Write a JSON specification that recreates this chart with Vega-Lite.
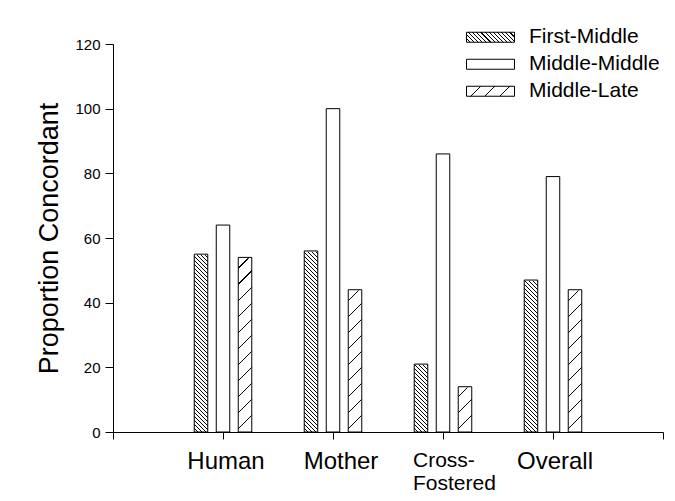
{
"$schema": "https://vega.github.io/schema/vega-lite/v6.json",
"width": 550,
"height": 388,
"autosize": {"type": "none"},
"padding": {"left": 113, "top": 44, "right": 12, "bottom": 69},
"config": {"view": {"stroke": null}, "font": "Liberation Sans",
"axis": {"labelFontSize": 15},
"axisY": {"labelFontSize": 15, "labelPadding": 5, "tickSize": 8, "tickColor": "#000", "domainColor": "#000", "labelColor": "#000", "grid": false}},
"data": {"values": [
{"group": "Human", "series": "First-Middle", "value": 55},
{"group": "Human", "series": "Middle-Middle", "value": 64},
{"group": "Human", "series": "Middle-Late", "value": 54},
{"group": "Mother", "series": "First-Middle", "value": 56},
{"group": "Mother", "series": "Middle-Middle", "value": 100},
{"group": "Mother", "series": "Middle-Late", "value": 44},
{"group": "Cross-Fostered", "series": "First-Middle", "value": 21},
{"group": "Cross-Fostered", "series": "Middle-Middle", "value": 86},
{"group": "Cross-Fostered", "series": "Middle-Late", "value": 14},
{"group": "Overall", "series": "First-Middle", "value": 47},
{"group": "Overall", "series": "Middle-Middle", "value": 79},
{"group": "Overall", "series": "Middle-Late", "value": 44}
]},
"layer": [
{
"encoding": {
"x": {"field": "group", "type": "nominal",
"scale": {"domain": ["Human", "Mother", "Cross-Fostered", "Overall"], "paddingInner": 0.477, "paddingOuter": 0.7386},
"axis": {"orient": "bottom", "title": null, "ticks": false, "domain": false, "labelAngle": 0, "labelColor": "#000", "labelPadding": 17, "labelOverlap": false, "labelBound": false, "labelLineHeight": 23,
"labelExpr": "datum.value === 'Cross-Fostered' ? ['Cross-', 'Fostered'] : datum.label",
"labelAlign": {"condition": {"test": "datum.value === 'Cross-Fostered'", "value": "left"}, "value": "center"},
"labelFontSize": {"condition": {"test": "datum.value === 'Cross-Fostered'", "value": 21}, "value": 24},
"labelOffset": {"condition": [{"test": "datum.value === 'Cross-Fostered'", "value": -30}, {"test": "datum.value === 'Mother'", "value": 8}, {"test": "datum.value === 'Human'", "value": 3}], "value": 2}
}},
"xOffset": {"field": "series", "type": "nominal", "scale": {"domain": ["First-Middle", "Middle-Middle", "Middle-Late"], "paddingInner": 0.386, "paddingOuter": 0}},
"y": {"field": "value", "type": "quantitative", "scale": {"domain": [0, 120], "nice": false},
"axis": {"values": [0, 20, 40, 60, 80, 100, 120], "tickSize": 8, "tickColor": "#000", "domainColor": "#000", "labelFontSize": 15, "labelColor": "#000", "labelPadding": 5, "grid": false,
"title": "Proportion Concordant", "titleFontSize": 27, "titleFontWeight": "normal", "titleColor": "#000", "titlePadding": 11}}
},
"layer": [
{
"transform": [{"filter": "datum.series === 'First-Middle'"}],
"mark": {"type": "bar", "fill": {"gradient": "linear", "x1": 0, "y1": 1, "x2": 0.036, "y2": -0.0336, "stops": [
{"offset":0,"color":"#fff"},
{"offset":0.007,"color":"#fff"},{"offset":0.007,"color":"#000"},{"offset":0.01,"color":"#000"},{"offset":0.01,"color":"#fff"},
{"offset":0.017,"color":"#fff"},{"offset":0.017,"color":"#000"},{"offset":0.02,"color":"#000"},{"offset":0.02,"color":"#fff"},
{"offset":0.027,"color":"#fff"},{"offset":0.027,"color":"#000"},{"offset":0.03,"color":"#000"},{"offset":0.03,"color":"#fff"},
{"offset":0.037,"color":"#fff"},{"offset":0.037,"color":"#000"},{"offset":0.04,"color":"#000"},{"offset":0.04,"color":"#fff"},
{"offset":0.047,"color":"#fff"},{"offset":0.047,"color":"#000"},{"offset":0.05,"color":"#000"},{"offset":0.05,"color":"#fff"},
{"offset":0.057,"color":"#fff"},{"offset":0.057,"color":"#000"},{"offset":0.06,"color":"#000"},{"offset":0.06,"color":"#fff"},
{"offset":0.067,"color":"#fff"},{"offset":0.067,"color":"#000"},{"offset":0.07,"color":"#000"},{"offset":0.07,"color":"#fff"},
{"offset":0.077,"color":"#fff"},{"offset":0.077,"color":"#000"},{"offset":0.08,"color":"#000"},{"offset":0.08,"color":"#fff"},
{"offset":0.087,"color":"#fff"},{"offset":0.087,"color":"#000"},{"offset":0.09,"color":"#000"},{"offset":0.09,"color":"#fff"},
{"offset":0.097,"color":"#fff"},{"offset":0.097,"color":"#000"},{"offset":0.1,"color":"#000"},{"offset":0.1,"color":"#fff"},
{"offset":0.107,"color":"#fff"},{"offset":0.107,"color":"#000"},{"offset":0.11,"color":"#000"},{"offset":0.11,"color":"#fff"},
{"offset":0.117,"color":"#fff"},{"offset":0.117,"color":"#000"},{"offset":0.12,"color":"#000"},{"offset":0.12,"color":"#fff"},
{"offset":0.127,"color":"#fff"},{"offset":0.127,"color":"#000"},{"offset":0.13,"color":"#000"},{"offset":0.13,"color":"#fff"},
{"offset":0.137,"color":"#fff"},{"offset":0.137,"color":"#000"},{"offset":0.14,"color":"#000"},{"offset":0.14,"color":"#fff"},
{"offset":0.147,"color":"#fff"},{"offset":0.147,"color":"#000"},{"offset":0.15,"color":"#000"},{"offset":0.15,"color":"#fff"},
{"offset":0.157,"color":"#fff"},{"offset":0.157,"color":"#000"},{"offset":0.16,"color":"#000"},{"offset":0.16,"color":"#fff"},
{"offset":0.167,"color":"#fff"},{"offset":0.167,"color":"#000"},{"offset":0.17,"color":"#000"},{"offset":0.17,"color":"#fff"},
{"offset":0.177,"color":"#fff"},{"offset":0.177,"color":"#000"},{"offset":0.18,"color":"#000"},{"offset":0.18,"color":"#fff"},
{"offset":0.187,"color":"#fff"},{"offset":0.187,"color":"#000"},{"offset":0.19,"color":"#000"},{"offset":0.19,"color":"#fff"},
{"offset":0.197,"color":"#fff"},{"offset":0.197,"color":"#000"},{"offset":0.2,"color":"#000"},{"offset":0.2,"color":"#fff"},
{"offset":0.207,"color":"#fff"},{"offset":0.207,"color":"#000"},{"offset":0.21,"color":"#000"},{"offset":0.21,"color":"#fff"},
{"offset":0.217,"color":"#fff"},{"offset":0.217,"color":"#000"},{"offset":0.22,"color":"#000"},{"offset":0.22,"color":"#fff"},
{"offset":0.227,"color":"#fff"},{"offset":0.227,"color":"#000"},{"offset":0.23,"color":"#000"},{"offset":0.23,"color":"#fff"},
{"offset":0.237,"color":"#fff"},{"offset":0.237,"color":"#000"},{"offset":0.24,"color":"#000"},{"offset":0.24,"color":"#fff"},
{"offset":0.247,"color":"#fff"},{"offset":0.247,"color":"#000"},{"offset":0.25,"color":"#000"},{"offset":0.25,"color":"#fff"},
{"offset":0.257,"color":"#fff"},{"offset":0.257,"color":"#000"},{"offset":0.26,"color":"#000"},{"offset":0.26,"color":"#fff"},
{"offset":0.267,"color":"#fff"},{"offset":0.267,"color":"#000"},{"offset":0.27,"color":"#000"},{"offset":0.27,"color":"#fff"},
{"offset":0.277,"color":"#fff"},{"offset":0.277,"color":"#000"},{"offset":0.28,"color":"#000"},{"offset":0.28,"color":"#fff"},
{"offset":0.287,"color":"#fff"},{"offset":0.287,"color":"#000"},{"offset":0.29,"color":"#000"},{"offset":0.29,"color":"#fff"},
{"offset":0.297,"color":"#fff"},{"offset":0.297,"color":"#000"},{"offset":0.3,"color":"#000"},{"offset":0.3,"color":"#fff"},
{"offset":0.307,"color":"#fff"},{"offset":0.307,"color":"#000"},{"offset":0.31,"color":"#000"},{"offset":0.31,"color":"#fff"},
{"offset":0.317,"color":"#fff"},{"offset":0.317,"color":"#000"},{"offset":0.32,"color":"#000"},{"offset":0.32,"color":"#fff"},
{"offset":0.327,"color":"#fff"},{"offset":0.327,"color":"#000"},{"offset":0.33,"color":"#000"},{"offset":0.33,"color":"#fff"},
{"offset":0.337,"color":"#fff"},{"offset":0.337,"color":"#000"},{"offset":0.34,"color":"#000"},{"offset":0.34,"color":"#fff"},
{"offset":0.347,"color":"#fff"},{"offset":0.347,"color":"#000"},{"offset":0.35,"color":"#000"},{"offset":0.35,"color":"#fff"},
{"offset":0.357,"color":"#fff"},{"offset":0.357,"color":"#000"},{"offset":0.36,"color":"#000"},{"offset":0.36,"color":"#fff"},
{"offset":0.367,"color":"#fff"},{"offset":0.367,"color":"#000"},{"offset":0.37,"color":"#000"},{"offset":0.37,"color":"#fff"},
{"offset":0.377,"color":"#fff"},{"offset":0.377,"color":"#000"},{"offset":0.38,"color":"#000"},{"offset":0.38,"color":"#fff"},
{"offset":0.387,"color":"#fff"},{"offset":0.387,"color":"#000"},{"offset":0.39,"color":"#000"},{"offset":0.39,"color":"#fff"},
{"offset":0.397,"color":"#fff"},{"offset":0.397,"color":"#000"},{"offset":0.4,"color":"#000"},{"offset":0.4,"color":"#fff"},
{"offset":0.407,"color":"#fff"},{"offset":0.407,"color":"#000"},{"offset":0.41,"color":"#000"},{"offset":0.41,"color":"#fff"},
{"offset":0.417,"color":"#fff"},{"offset":0.417,"color":"#000"},{"offset":0.42,"color":"#000"},{"offset":0.42,"color":"#fff"},
{"offset":0.427,"color":"#fff"},{"offset":0.427,"color":"#000"},{"offset":0.43,"color":"#000"},{"offset":0.43,"color":"#fff"},
{"offset":0.437,"color":"#fff"},{"offset":0.437,"color":"#000"},{"offset":0.44,"color":"#000"},{"offset":0.44,"color":"#fff"},
{"offset":0.447,"color":"#fff"},{"offset":0.447,"color":"#000"},{"offset":0.45,"color":"#000"},{"offset":0.45,"color":"#fff"},
{"offset":0.457,"color":"#fff"},{"offset":0.457,"color":"#000"},{"offset":0.46,"color":"#000"},{"offset":0.46,"color":"#fff"},
{"offset":0.467,"color":"#fff"},{"offset":0.467,"color":"#000"},{"offset":0.47,"color":"#000"},{"offset":0.47,"color":"#fff"},
{"offset":0.477,"color":"#fff"},{"offset":0.477,"color":"#000"},{"offset":0.48,"color":"#000"},{"offset":0.48,"color":"#fff"},
{"offset":0.487,"color":"#fff"},{"offset":0.487,"color":"#000"},{"offset":0.49,"color":"#000"},{"offset":0.49,"color":"#fff"},
{"offset":0.497,"color":"#fff"},{"offset":0.497,"color":"#000"},{"offset":0.5,"color":"#000"},{"offset":0.5,"color":"#fff"},
{"offset":0.507,"color":"#fff"},{"offset":0.507,"color":"#000"},{"offset":0.51,"color":"#000"},{"offset":0.51,"color":"#fff"},
{"offset":0.517,"color":"#fff"},{"offset":0.517,"color":"#000"},{"offset":0.52,"color":"#000"},{"offset":0.52,"color":"#fff"},
{"offset":0.527,"color":"#fff"},{"offset":0.527,"color":"#000"},{"offset":0.53,"color":"#000"},{"offset":0.53,"color":"#fff"},
{"offset":0.537,"color":"#fff"},{"offset":0.537,"color":"#000"},{"offset":0.54,"color":"#000"},{"offset":0.54,"color":"#fff"},
{"offset":0.547,"color":"#fff"},{"offset":0.547,"color":"#000"},{"offset":0.55,"color":"#000"},{"offset":0.55,"color":"#fff"},
{"offset":0.557,"color":"#fff"},{"offset":0.557,"color":"#000"},{"offset":0.56,"color":"#000"},{"offset":0.56,"color":"#fff"},
{"offset":0.567,"color":"#fff"},{"offset":0.567,"color":"#000"},{"offset":0.57,"color":"#000"},{"offset":0.57,"color":"#fff"},
{"offset":0.577,"color":"#fff"},{"offset":0.577,"color":"#000"},{"offset":0.58,"color":"#000"},{"offset":0.58,"color":"#fff"},
{"offset":0.587,"color":"#fff"},{"offset":0.587,"color":"#000"},{"offset":0.59,"color":"#000"},{"offset":0.59,"color":"#fff"},
{"offset":0.597,"color":"#fff"},{"offset":0.597,"color":"#000"},{"offset":0.6,"color":"#000"},{"offset":0.6,"color":"#fff"},
{"offset":0.607,"color":"#fff"},{"offset":0.607,"color":"#000"},{"offset":0.61,"color":"#000"},{"offset":0.61,"color":"#fff"},
{"offset":0.617,"color":"#fff"},{"offset":0.617,"color":"#000"},{"offset":0.62,"color":"#000"},{"offset":0.62,"color":"#fff"},
{"offset":0.627,"color":"#fff"},{"offset":0.627,"color":"#000"},{"offset":0.63,"color":"#000"},{"offset":0.63,"color":"#fff"},
{"offset":0.637,"color":"#fff"},{"offset":0.637,"color":"#000"},{"offset":0.64,"color":"#000"},{"offset":0.64,"color":"#fff"},
{"offset":0.647,"color":"#fff"},{"offset":0.647,"color":"#000"},{"offset":0.65,"color":"#000"},{"offset":0.65,"color":"#fff"},
{"offset":0.657,"color":"#fff"},{"offset":0.657,"color":"#000"},{"offset":0.66,"color":"#000"},{"offset":0.66,"color":"#fff"},
{"offset":0.667,"color":"#fff"},{"offset":0.667,"color":"#000"},{"offset":0.67,"color":"#000"},{"offset":0.67,"color":"#fff"},
{"offset":0.677,"color":"#fff"},{"offset":0.677,"color":"#000"},{"offset":0.68,"color":"#000"},{"offset":0.68,"color":"#fff"},
{"offset":0.687,"color":"#fff"},{"offset":0.687,"color":"#000"},{"offset":0.69,"color":"#000"},{"offset":0.69,"color":"#fff"},
{"offset":0.697,"color":"#fff"},{"offset":0.697,"color":"#000"},{"offset":0.7,"color":"#000"},{"offset":0.7,"color":"#fff"},
{"offset":0.707,"color":"#fff"},{"offset":0.707,"color":"#000"},{"offset":0.71,"color":"#000"},{"offset":0.71,"color":"#fff"},
{"offset":0.717,"color":"#fff"},{"offset":0.717,"color":"#000"},{"offset":0.72,"color":"#000"},{"offset":0.72,"color":"#fff"},
{"offset":0.727,"color":"#fff"},{"offset":0.727,"color":"#000"},{"offset":0.73,"color":"#000"},{"offset":0.73,"color":"#fff"},
{"offset":0.737,"color":"#fff"},{"offset":0.737,"color":"#000"},{"offset":0.74,"color":"#000"},{"offset":0.74,"color":"#fff"},
{"offset":0.747,"color":"#fff"},{"offset":0.747,"color":"#000"},{"offset":0.75,"color":"#000"},{"offset":0.75,"color":"#fff"},
{"offset":0.757,"color":"#fff"},{"offset":0.757,"color":"#000"},{"offset":0.76,"color":"#000"},{"offset":0.76,"color":"#fff"},
{"offset":0.767,"color":"#fff"},{"offset":0.767,"color":"#000"},{"offset":0.77,"color":"#000"},{"offset":0.77,"color":"#fff"},
{"offset":0.777,"color":"#fff"},{"offset":0.777,"color":"#000"},{"offset":0.78,"color":"#000"},{"offset":0.78,"color":"#fff"},
{"offset":0.787,"color":"#fff"},{"offset":0.787,"color":"#000"},{"offset":0.79,"color":"#000"},{"offset":0.79,"color":"#fff"},
{"offset":0.797,"color":"#fff"},{"offset":0.797,"color":"#000"},{"offset":0.8,"color":"#000"},{"offset":0.8,"color":"#fff"},
{"offset":0.807,"color":"#fff"},{"offset":0.807,"color":"#000"},{"offset":0.81,"color":"#000"},{"offset":0.81,"color":"#fff"},
{"offset":0.817,"color":"#fff"},{"offset":0.817,"color":"#000"},{"offset":0.82,"color":"#000"},{"offset":0.82,"color":"#fff"},
{"offset":0.827,"color":"#fff"},{"offset":0.827,"color":"#000"},{"offset":0.83,"color":"#000"},{"offset":0.83,"color":"#fff"},
{"offset":0.837,"color":"#fff"},{"offset":0.837,"color":"#000"},{"offset":0.84,"color":"#000"},{"offset":0.84,"color":"#fff"},
{"offset":0.847,"color":"#fff"},{"offset":0.847,"color":"#000"},{"offset":0.85,"color":"#000"},{"offset":0.85,"color":"#fff"},
{"offset":0.857,"color":"#fff"},{"offset":0.857,"color":"#000"},{"offset":0.86,"color":"#000"},{"offset":0.86,"color":"#fff"},
{"offset":0.867,"color":"#fff"},{"offset":0.867,"color":"#000"},{"offset":0.87,"color":"#000"},{"offset":0.87,"color":"#fff"},
{"offset":0.877,"color":"#fff"},{"offset":0.877,"color":"#000"},{"offset":0.88,"color":"#000"},{"offset":0.88,"color":"#fff"},
{"offset":0.887,"color":"#fff"},{"offset":0.887,"color":"#000"},{"offset":0.89,"color":"#000"},{"offset":0.89,"color":"#fff"},
{"offset":0.897,"color":"#fff"},{"offset":0.897,"color":"#000"},{"offset":0.9,"color":"#000"},{"offset":0.9,"color":"#fff"},
{"offset":0.907,"color":"#fff"},{"offset":0.907,"color":"#000"},{"offset":0.91,"color":"#000"},{"offset":0.91,"color":"#fff"},
{"offset":0.917,"color":"#fff"},{"offset":0.917,"color":"#000"},{"offset":0.92,"color":"#000"},{"offset":0.92,"color":"#fff"},
{"offset":0.927,"color":"#fff"},{"offset":0.927,"color":"#000"},{"offset":0.93,"color":"#000"},{"offset":0.93,"color":"#fff"},
{"offset":0.937,"color":"#fff"},{"offset":0.937,"color":"#000"},{"offset":0.94,"color":"#000"},{"offset":0.94,"color":"#fff"},
{"offset":0.947,"color":"#fff"},{"offset":0.947,"color":"#000"},{"offset":0.95,"color":"#000"},{"offset":0.95,"color":"#fff"},
{"offset":0.957,"color":"#fff"},{"offset":0.957,"color":"#000"},{"offset":0.96,"color":"#000"},{"offset":0.96,"color":"#fff"},
{"offset":0.967,"color":"#fff"},{"offset":0.967,"color":"#000"},{"offset":0.97,"color":"#000"},{"offset":0.97,"color":"#fff"},
{"offset":0.977,"color":"#fff"},{"offset":0.977,"color":"#000"},{"offset":0.98,"color":"#000"},{"offset":0.98,"color":"#fff"},
{"offset":0.987,"color":"#fff"},{"offset":0.987,"color":"#000"},{"offset":0.99,"color":"#000"},{"offset":0.99,"color":"#fff"},
{"offset":0.997,"color":"#fff"},{"offset":0.997,"color":"#000"},{"offset":1,"color":"#000"}
]}},
"encoding": {
"y": {"datum": 120, "type": "quantitative", "scale": {"domain": [0, 120], "nice": false},
"axis": {"values": [0, 20, 40, 60, 80, 100, 120], "tickSize": 8, "tickColor": "#000", "domainColor": "#000", "labelFontSize": 15, "labelColor": "#000", "labelPadding": 5, "grid": false,
"title": "Proportion Concordant", "titleFontSize": 27, "titleFontWeight": "normal", "titleColor": "#000", "titlePadding": 11}},
"y2": {"datum": 0}
}
},
{
"transform": [{"filter": "datum.series === 'Middle-Late'"}],
"mark": {"type": "bar", "fill": {"gradient": "linear", "x1": 0, "y1": 0, "x2": 0.036, "y2": 1.0336, "stops": [
{"offset":0,"color":"#fff"},
{"offset":0.037,"color":"#fff"},{"offset":0.037,"color":"#000"},{"offset":0.04,"color":"#000"},{"offset":0.04,"color":"#fff"},
{"offset":0.077,"color":"#fff"},{"offset":0.077,"color":"#000"},{"offset":0.08,"color":"#000"},{"offset":0.08,"color":"#fff"},
{"offset":0.117,"color":"#fff"},{"offset":0.117,"color":"#000"},{"offset":0.12,"color":"#000"},{"offset":0.12,"color":"#fff"},
{"offset":0.157,"color":"#fff"},{"offset":0.157,"color":"#000"},{"offset":0.16,"color":"#000"},{"offset":0.16,"color":"#fff"},
{"offset":0.197,"color":"#fff"},{"offset":0.197,"color":"#000"},{"offset":0.2,"color":"#000"},{"offset":0.2,"color":"#fff"},
{"offset":0.237,"color":"#fff"},{"offset":0.237,"color":"#000"},{"offset":0.24,"color":"#000"},{"offset":0.24,"color":"#fff"},
{"offset":0.277,"color":"#fff"},{"offset":0.277,"color":"#000"},{"offset":0.28,"color":"#000"},{"offset":0.28,"color":"#fff"},
{"offset":0.317,"color":"#fff"},{"offset":0.317,"color":"#000"},{"offset":0.32,"color":"#000"},{"offset":0.32,"color":"#fff"},
{"offset":0.357,"color":"#fff"},{"offset":0.357,"color":"#000"},{"offset":0.36,"color":"#000"},{"offset":0.36,"color":"#fff"},
{"offset":0.397,"color":"#fff"},{"offset":0.397,"color":"#000"},{"offset":0.4,"color":"#000"},{"offset":0.4,"color":"#fff"},
{"offset":0.437,"color":"#fff"},{"offset":0.437,"color":"#000"},{"offset":0.44,"color":"#000"},{"offset":0.44,"color":"#fff"},
{"offset":0.477,"color":"#fff"},{"offset":0.477,"color":"#000"},{"offset":0.48,"color":"#000"},{"offset":0.48,"color":"#fff"},
{"offset":0.517,"color":"#fff"},{"offset":0.517,"color":"#000"},{"offset":0.52,"color":"#000"},{"offset":0.52,"color":"#fff"},
{"offset":0.557,"color":"#fff"},{"offset":0.557,"color":"#000"},{"offset":0.56,"color":"#000"},{"offset":0.56,"color":"#fff"},
{"offset":0.597,"color":"#fff"},{"offset":0.597,"color":"#000"},{"offset":0.6,"color":"#000"},{"offset":0.6,"color":"#fff"},
{"offset":0.637,"color":"#fff"},{"offset":0.637,"color":"#000"},{"offset":0.64,"color":"#000"},{"offset":0.64,"color":"#fff"},
{"offset":0.677,"color":"#fff"},{"offset":0.677,"color":"#000"},{"offset":0.68,"color":"#000"},{"offset":0.68,"color":"#fff"},
{"offset":0.717,"color":"#fff"},{"offset":0.717,"color":"#000"},{"offset":0.72,"color":"#000"},{"offset":0.72,"color":"#fff"},
{"offset":0.757,"color":"#fff"},{"offset":0.757,"color":"#000"},{"offset":0.76,"color":"#000"},{"offset":0.76,"color":"#fff"},
{"offset":0.797,"color":"#fff"},{"offset":0.797,"color":"#000"},{"offset":0.8,"color":"#000"},{"offset":0.8,"color":"#fff"},
{"offset":0.837,"color":"#fff"},{"offset":0.837,"color":"#000"},{"offset":0.84,"color":"#000"},{"offset":0.84,"color":"#fff"},
{"offset":0.877,"color":"#fff"},{"offset":0.877,"color":"#000"},{"offset":0.88,"color":"#000"},{"offset":0.88,"color":"#fff"},
{"offset":0.917,"color":"#fff"},{"offset":0.917,"color":"#000"},{"offset":0.92,"color":"#000"},{"offset":0.92,"color":"#fff"},
{"offset":0.957,"color":"#fff"},{"offset":0.957,"color":"#000"},{"offset":0.96,"color":"#000"},{"offset":0.96,"color":"#fff"},
{"offset":0.997,"color":"#fff"},{"offset":0.997,"color":"#000"},{"offset":1,"color":"#000"}
]}},
"encoding": {
"y": {"datum": 120, "type": "quantitative", "scale": {"domain": [0, 120], "nice": false},
"axis": {"values": [0, 20, 40, 60, 80, 100, 120], "tickSize": 8, "tickColor": "#000", "domainColor": "#000", "labelFontSize": 15, "labelColor": "#000", "labelPadding": 5, "grid": false,
"title": "Proportion Concordant", "titleFontSize": 27, "titleFontWeight": "normal", "titleColor": "#000", "titlePadding": 11}},
"y2": {"datum": 0}
}
},
{
"transform": [{"filter": "datum.series !== 'Middle-Middle'"}],
"mark": {"type": "bar", "fill": "#fff", "stroke": "#fff", "strokeWidth": 1.5},
"encoding": {
"y2": {"datum": 120}
}
},
{
"mark": {"type": "bar", "fill": "transparent", "stroke": "#000", "strokeWidth": 1}
},
{
"transform": [{"filter": "datum.value < 0"}],
"mark": {"type": "bar", "stroke": "#000", "strokeWidth": 1},
"encoding": {
"fill": {"field": "series", "type": "nominal",
"scale": {"domain": ["First-Middle", "Middle-Middle", "Middle-Late"], "range": [
{"expr": "{gradient: 'linear', x1: 0, y1: 1, x2: 1.158, y2: 0.7587, stops: [{offset: 0, color: '#fff'}, {offset: 0.0514, color: '#fff'}, {offset: 0.0514, color: '#000'}, {offset: 0.0714, color: '#000'}, {offset: 0.0714, color: '#fff'}, {offset: 0.1229, color: '#fff'}, {offset: 0.1229, color: '#000'}, {offset: 0.1429, color: '#000'}, {offset: 0.1429, color: '#fff'}, {offset: 0.1943, color: '#fff'}, {offset: 0.1943, color: '#000'}, {offset: 0.2143, color: '#000'}, {offset: 0.2143, color: '#fff'}, {offset: 0.2657, color: '#fff'}, {offset: 0.2657, color: '#000'}, {offset: 0.2857, color: '#000'}, {offset: 0.2857, color: '#fff'}, {offset: 0.3371, color: '#fff'}, {offset: 0.3371, color: '#000'}, {offset: 0.3571, color: '#000'}, {offset: 0.3571, color: '#fff'}, {offset: 0.4086, color: '#fff'}, {offset: 0.4086, color: '#000'}, {offset: 0.4286, color: '#000'}, {offset: 0.4286, color: '#fff'}, {offset: 0.48, color: '#fff'}, {offset: 0.48, color: '#000'}, {offset: 0.5, color: '#000'}, {offset: 0.5, color: '#fff'}, {offset: 0.5514, color: '#fff'}, {offset: 0.5514, color: '#000'}, {offset: 0.5714, color: '#000'}, {offset: 0.5714, color: '#fff'}, {offset: 0.6229, color: '#fff'}, {offset: 0.6229, color: '#000'}, {offset: 0.6429, color: '#000'}, {offset: 0.6429, color: '#fff'}, {offset: 0.6943, color: '#fff'}, {offset: 0.6943, color: '#000'}, {offset: 0.7143, color: '#000'}, {offset: 0.7143, color: '#fff'}, {offset: 0.7657, color: '#fff'}, {offset: 0.7657, color: '#000'}, {offset: 0.7857, color: '#000'}, {offset: 0.7857, color: '#fff'}, {offset: 0.8371, color: '#fff'}, {offset: 0.8371, color: '#000'}, {offset: 0.8571, color: '#000'}, {offset: 0.8571, color: '#fff'}, {offset: 0.9086, color: '#fff'}, {offset: 0.9086, color: '#000'}, {offset: 0.9286, color: '#000'}, {offset: 0.9286, color: '#fff'}, {offset: 0.98, color: '#fff'}, {offset: 0.98, color: '#000'}, {offset: 1, color: '#000'}]}"},
"#fff",
{"expr": "{gradient: 'linear', x1: 0, y1: 0, x2: 1.158, y2: 0.2413, stops: [{offset: 0, color: '#fff'}, {offset: 0.23, color: '#fff'}, {offset: 0.23, color: '#000'}, {offset: 0.25, color: '#000'}, {offset: 0.25, color: '#fff'}, {offset: 0.48, color: '#fff'}, {offset: 0.48, color: '#000'}, {offset: 0.5, color: '#000'}, {offset: 0.5, color: '#fff'}, {offset: 0.73, color: '#fff'}, {offset: 0.73, color: '#000'}, {offset: 0.75, color: '#000'}, {offset: 0.75, color: '#fff'}, {offset: 0.98, color: '#fff'}, {offset: 0.98, color: '#000'}, {offset: 1, color: '#000'}]}"}
]},
"legend": {"title": null, "orient": "none", "legendX": 353, "legendY": -19, "padding": 0,
"symbolType": "M-1,-0.2083H1V0.2083H-1Z", "symbolSize": 2304, "symbolStrokeWidth": 1, "symbolStrokeColor": "#000", "clipHeight": 24.5, "rowPadding": 2,
"labelFontSize": 21, "labelColor": "#000", "labelOffset": 14, "labelFont": "Liberation Sans"}
}
}
}
]
},
{
"mark": {"type": "rule", "opacity": 0},
"encoding": {
"x": {"datum": 0, "type": "quantitative", "scale": {"domain": [0, 5], "nice": false, "zero": false},
"axis": {"orient": "bottom", "title": null, "values": [0, 1, 2, 3, 4, 5], "labels": false, "ticks": true, "tickSize": 7, "tickColor": "#000", "domain": true, "domainColor": "#000", "grid": false}}
}
}
],
"resolve": {"scale": {"x": "independent"}}
}
